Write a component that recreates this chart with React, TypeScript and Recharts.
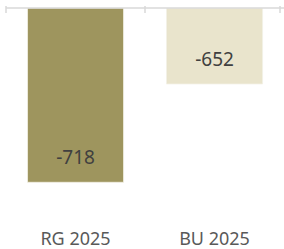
import { Bar, BarChart, XAxis, YAxis, LabelList, Cell } from "recharts"

const categories = ["RG 2025", "BU 2025"]
const values = [-718, -652]
const barColors = ["#9E955E", "#E9E4CC"]
const boundaryTicks = [0, 1, 2]

const data = categories.map((name, i) => ({ name, value: values[i], idx: i + 0.5 }))

const renderValue = (props: any) => {
  const { x, y, width, height, value } = props
  const bottom = Math.max(y, y + height)
  return (
    <text
      x={x + width / 2}
      y={bottom - 25}
      textAnchor="middle"
      dominantBaseline="central"
      fill="#404040"
      fontSize={19}
      fontFamily="Noto Sans"
    >
      {value}
    </text>
  )
}

// tick marks hang down from the top axis line
const renderBoundaryTick = (props: any) => {
  const { x, y } = props
  return <line x1={x} x2={x} y1={y} y2={y + 7} stroke="#D9D9D9" strokeWidth={1.5} />
}

export default function App() {
  return (
    <div style={{ position: "absolute", left: 0, top: 0 }}>
      <BarChart
        width={284}
        height={249}
        data={data}
        margin={{ top: 7, right: 0, bottom: 0, left: 6 }}
        barCategoryGap="15.5%"
      >
        <XAxis
          xAxisId="top"
          orientation="top"
          type="number"
          dataKey="idx"
          domain={[0, 2]}
          ticks={boundaryTicks}
          height={1}
          tickSize={0}
          tickLine={false}
          tick={renderBoundaryTick}
          axisLine={{ stroke: "#D9D9D9", strokeWidth: 1.5 }}
        />
        <XAxis
          dataKey="name"
          height={25}
          axisLine={false}
          tickLine={false}
          tick={{ fill: "#595959", fontSize: 18, fontFamily: "Noto Sans" }}
        />
        <YAxis hide domain={[-746, -601]} allowDataOverflow />
        <Bar dataKey="value" isAnimationActive={false} stroke="#F2F0E4" strokeWidth={0.8}>
          {data.map((d, i) => (
            <Cell key={d.name} fill={barColors[i]} />
          ))}
          <LabelList dataKey="value" content={renderValue} />
        </Bar>
      </BarChart>
    </div>
  )
}
